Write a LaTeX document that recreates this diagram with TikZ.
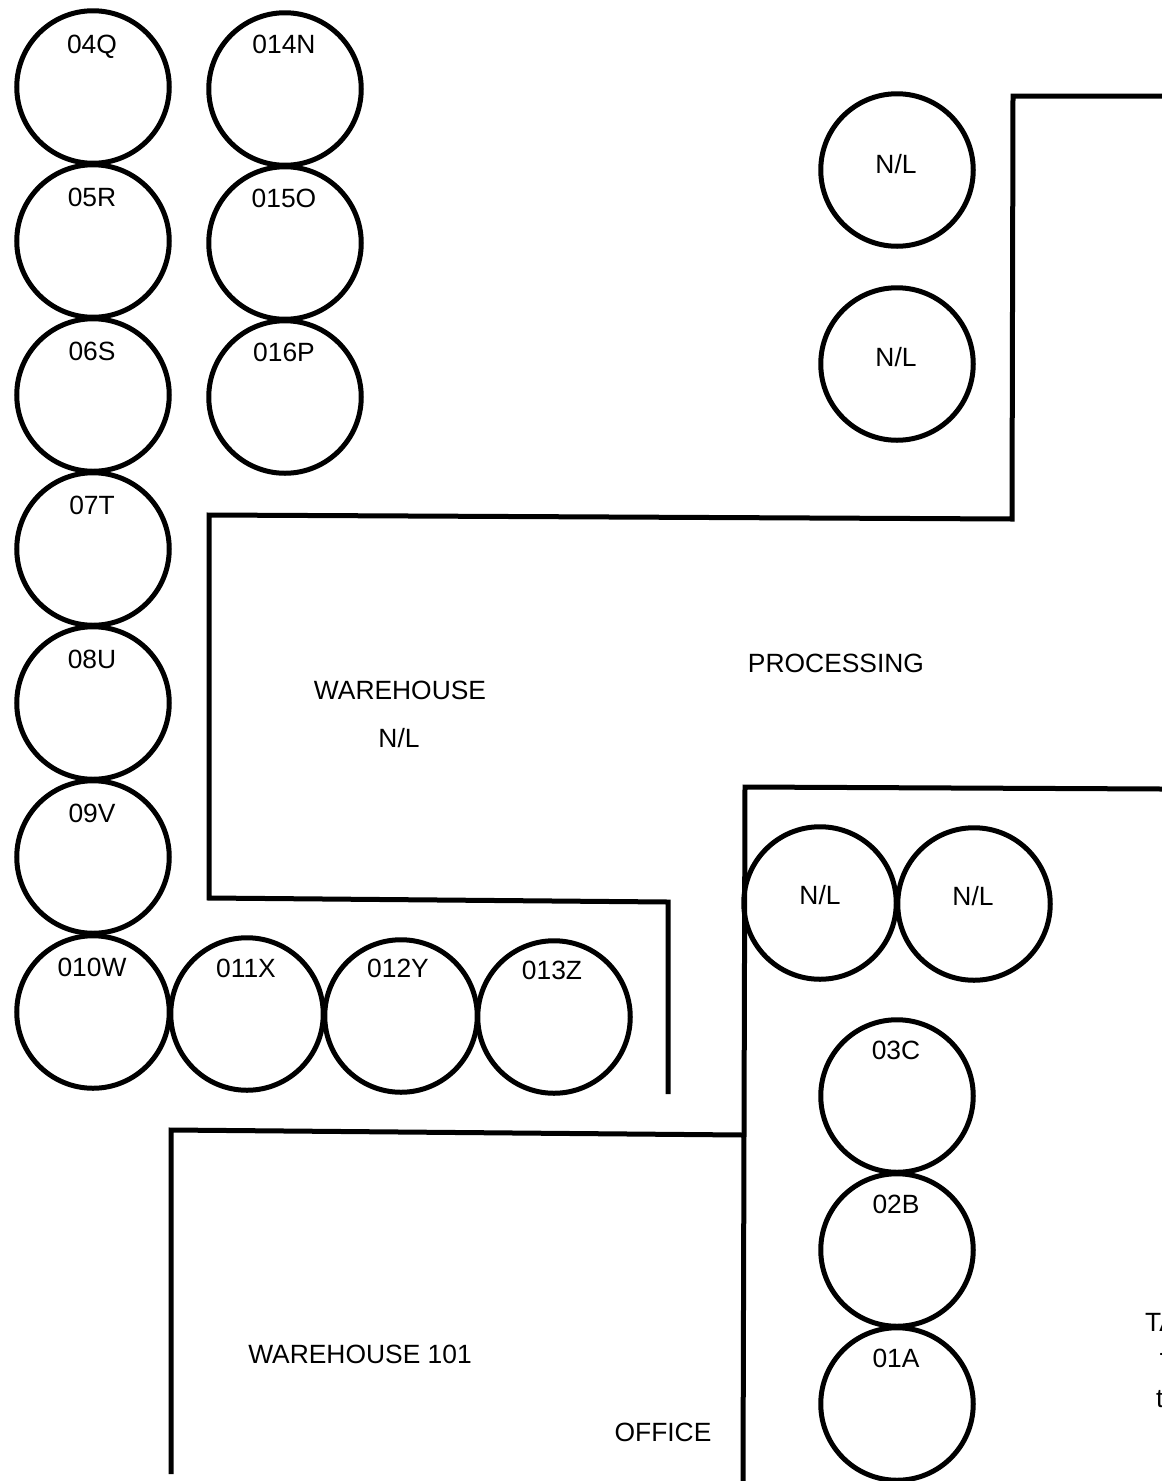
\documentclass[tikz,border=0pt]{standalone}
\usepackage{fontspec}
\setmainfont{Liberation Sans}
\tikzset{
  tank/.style={draw=black,line width=5pt,circle,minimum size=152.5pt,inner sep=0pt,fill=none},
  lab/.style={inner sep=0pt,text height=19pt,text depth=0pt,font=\fontsize{26.4pt}{31pt}\selectfont},
  wall/.style={draw=black,line width=5pt,line join=miter,line cap=butt}
}
\begin{document}
\begin{tikzpicture}[x=1pt,y=-1pt]
\useasboundingbox (0,0) rectangle (1162,1481);
\clip (0,0) rectangle (1162,1481);
\fill[white] (0,0) rectangle (1162,1481);
% walls
\draw[wall] (1162,96) -- (1013,96) -- (1012,519) -- (209,515) -- (209,898) -- (668,902) -- (668,1094);
\draw[wall] (1162,789) -- (745,787) -- (743,1481);
\draw[wall] (171,1474) -- (171,1130) -- (743,1135);
% tanks with labels above their centres
\foreach \n/\cx/\cy/\lx/\ly/\t in {
  a/93/87/92/44/04Q, b/93/241/92/197/05R, c/93/395/92/351/06S, d/93/549/92/505/07T,
  e/93/703/92/659/08U, f/93/857/92/813/09V, g/93/1012/92/967/010W, h/247/1014/246/968/011X,
  i/401/1016/398/968/012Y, j/554/1017/552/970/013Z, k/285/89/284/44/014N, l/285/243/284/198/015O,
  m/285/397/284/352/016P, n/897/170/896/164/N\slash L, o/897/364/896/357/N\slash L,
  p/820/903/820/895/N\slash L, q/974/904/973/896/N\slash L, r/897/1096/896/1050/03C,
  s/897/1250/896/1204/02B, t/897/1404/896/1358/01A}{
  \node[tank] (tank\n) at (\cx,\cy) {};
  \node[lab] (text\n) at (\lx,\ly) {\t};
}
% room labels
\node[lab] (wh) at (400,690) {WAREHOUSE};
\node[lab] (whnl) at (399,738) {N/L};
\node[lab] (proc) at (836,663) {PROCESSING};
\node[lab] (wh101) at (360,1354) {WAREHOUSE 101};
\node[lab] (office) at (663,1432) {OFFICE};
% labels cut by the right edge
\node[lab,anchor=west] (cuta) at (1145,1322) {TA};
\node[lab,anchor=west] (cutb) at (1159,1352) {-};
\node[lab,anchor=west] (cutc) at (1156,1398) {t};
\end{tikzpicture}
\end{document}
